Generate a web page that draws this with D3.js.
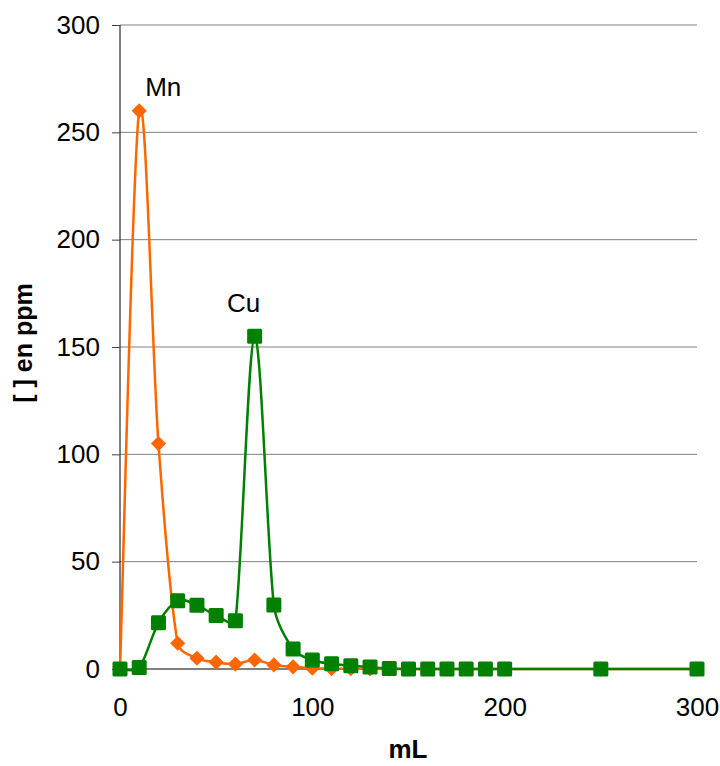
<!DOCTYPE html>
<html><head><meta charset="utf-8">
<script src="https://cdn.jsdelivr.net/npm/d3@7"></script>
<style>body{margin:0;background:#fff}text{font-family:"Liberation Sans",Arial,sans-serif}</style>
</head><body><svg id="c" width="720" height="766"></svg>
<script>
const xValues = [0,10,20,30,40,50,60,70,80,90,100,110,120,130,140,150,160,170,180,190,200,250,300];
const mnValues = [0,260,105,12,5,3.2,2.3,4.2,1.9,1,0.4,0.2,0.1,0,0,0,0,0,0,0,0,0,0];
const cuValues = [0,0.7,21.5,31.8,29.7,24.9,22.5,155,29.8,9.3,4.2,2.4,1.5,0.9,0.2,0,0,0,0,0,0,0,0];
const yTicks = [0,50,100,150,200,250,300];
const xTicks = [0,100,200,300];

const svg = d3.select("#c");
const L=120,R=697,T=25,B=669;
const FONT = "Liberation Sans, Arial, sans-serif";
const x = d3.scaleLinear().domain([0,300]).range([L,R]);
const y = d3.scaleLinear().domain([0,300]).range([B,T]);

// gridlines
svg.append("g").selectAll("line").data(yTicks.filter(d=>d>0)).join("line")
  .attr("x1",L).attr("x2",R).attr("y1",d=>y(d)).attr("y2",d=>y(d))
  .attr("stroke","#808080").attr("stroke-width",1);

// y axis
const ya = svg.append("g").attr("transform",`translate(${L},0)`)
  .call(d3.axisLeft(y).tickValues(yTicks).tickSize(8).tickPadding(12));
ya.select(".domain").attr("stroke","#000").attr("d",`M0,${B}V${T}`);
ya.selectAll(".tick line").attr("stroke","#404040");
ya.selectAll("text").attr("font-size",26).attr("fill","#000").attr("font-family",FONT);

// x axis
const xa = svg.append("g").attr("transform",`translate(0,${B})`)
  .call(d3.axisBottom(x).tickValues(xTicks).tickSize(5).tickPadding(24));
xa.select(".domain").attr("stroke","#000").attr("d",`M${L},0H${R}`);
xa.selectAll(".tick line").attr("stroke","#404040");
xa.selectAll("text").attr("font-size",26).attr("fill","#000").attr("font-family",FONT);

// smoothed line (Catmull-Rom style, tangents clamped per segment to avoid overshoot)
function smoothPath(vals){
  const P = vals.map((v,i)=>[x(xValues[i]), y(v)]);
  const n = P.length;
  const tan = P.map((p,i)=>{
    const a = P[Math.max(0,i-1)], b = P[Math.min(n-1,i+1)];
    return [(b[0]-a[0])/6, (b[1]-a[1])/6];
  });
  const clamp = (t,d)=>{ const l=Math.hypot(t[0],t[1]); const m=d*0.4; return l>m && l>0 ? [t[0]*m/l,t[1]*m/l] : t; };
  const path = d3.path();
  path.moveTo(P[0][0],P[0][1]);
  for(let i=0;i<n-1;i++){
    const p0=P[i], p1=P[i+1];
    const d = Math.hypot(p1[0]-p0[0], p1[1]-p0[1]);
    const t0 = clamp(tan[i],d), t1 = clamp(tan[i+1],d);
    path.bezierCurveTo(p0[0]+t0[0],p0[1]+t0[1], p1[0]-t1[0],p1[1]-t1[1], p1[0],p1[1]);
  }
  return path.toString();
}

// Mn
svg.append("path").attr("d",smoothPath(mnValues)).attr("fill","none").attr("stroke","#FF6600").attr("stroke-width",2.5);
const sym = d3.symbol().type(d3.symbolSquare).size(115);
svg.append("g").selectAll("path").data(mnValues).join("path")
  .attr("d",sym)
  .attr("transform",(d,i)=>`translate(${x(xValues[i])},${y(d)}) rotate(45)`)
  .attr("fill","#FF6600");

// Cu
svg.append("path").attr("d",smoothPath(cuValues)).attr("fill","none").attr("stroke","#008000").attr("stroke-width",2.5);
svg.append("g").selectAll("rect").data(cuValues).join("rect")
  .attr("x",(d,i)=>x(xValues[i])-7.5).attr("y",d=>y(d)-7.5)
  .attr("width",15).attr("height",15).attr("rx",1.5)
  .attr("fill","#008000");

// labels
svg.append("text").attr("x",x(10)+24).attr("y",y(260)-15).attr("text-anchor","middle").attr("font-size",26).text("Mn");
svg.append("text").attr("x",x(70)-11).attr("y",y(155)-24).attr("text-anchor","middle").attr("font-size",26).text("Cu");

svg.append("text").attr("transform",`translate(32,343) rotate(-90)`).attr("text-anchor","middle")
  .attr("font-size",25).attr("font-weight","bold").text("[ ] en ppm");
svg.append("text").attr("x",408).attr("y",758).attr("text-anchor","middle")
  .attr("font-size",26).attr("font-weight","bold").text("mL");
</script></body></html>
